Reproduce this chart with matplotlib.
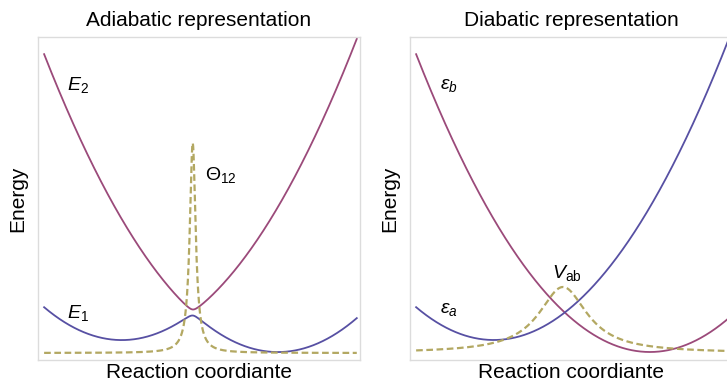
import numpy as np
import matplotlib
matplotlib.use("Agg")
import matplotlib.pyplot as plt

plt.rcParams['font.family'] = ['Liberation Sans', 'DejaVu Sans']
plt.rcParams['mathtext.fontset'] = 'custom'
plt.rcParams['mathtext.rm'] = 'Liberation Sans'
plt.rcParams['mathtext.it'] = 'Liberation Sans:italic'
plt.rcParams['mathtext.bf'] = 'Liberation Sans:bold'

# ==============================
# PARAMETER KURVA
# ==============================
pos_a = 0.26      # minimum sumur a (fraksi koordinat reaksi)
pos_b = 0.745     # minimum sumur b
energi_a = 20.0   # energi minimum a
energi_b = 8.0    # energi minimum b
kelengkungan = 565.0
kopling = 3.0     # V (setengah celah pada titik silang)

theta_dasar = 7.0
theta_puncak = 210.0

vab_pusat = 0.475
vab_dasar = 7.0
vab_puncak = 66.0
vab_lebar = 0.092

x_kiri = np.linspace(0.019, 0.99, 2000)
x_kanan = np.linspace(0.019, 1.0, 2000)

c_magenta = '#9b4a7a'
c_biru = '#5750a3'
c_zaitun = '#b3a862'


def diabatik(x):
    ea = energi_a + kelengkungan * (x - pos_a) ** 2
    eb = energi_b + kelengkungan * (x - pos_b) ** 2
    return ea, eb


# ==============================
# GAMBAR
# ==============================
fig = plt.figure(figsize=(7.27, 3.86), dpi=100)
ax1 = fig.add_axes([38 / 727, 26 / 386, 322 / 727, 323 / 386])
ax2 = fig.add_axes([410 / 727, 26 / 386, 322 / 727, 323 / 386])

# --- adiabatik ---
ea, eb = diabatik(x_kiri)
rata = 0.5 * (ea + eb)
selisih = np.sqrt(0.25 * (ea - eb) ** 2 + kopling ** 2)
E1 = rata - selisih
E2 = rata + selisih
# kopling non-adiabatik (Lorentzian di sekitar titik silang)
d_delta = 2 * kelengkungan * (pos_b - pos_a)
x_silang = x_kiri[np.argmin(np.abs(ea - eb))]
gamma = 2 * kopling / d_delta
theta = theta_dasar + theta_puncak * gamma ** 2 / ((x_kiri - x_silang) ** 2 + gamma ** 2)

ax1.plot(x_kiri, E2, color=c_magenta, lw=1.3)
ax1.plot(x_kiri, E1, color=c_biru, lw=1.3)
ax1.plot(x_kiri, theta, color=c_zaitun, lw=1.6, dashes=(3, 1.6))
ax1.text(0.09, 275, r'$E_2$', fontsize=14, va='center')
ax1.text(0.09, 47, r'$E_1$', fontsize=14, va='center')
ax1.text(0.519, 185, r'$\Theta_{12}$', fontsize=14, va='center')
ax1.set_title('Adiabatic representation', fontsize=15, pad=8)

# --- diabatik ---
ea, eb = diabatik(x_kanan)
vab = vab_dasar + vab_puncak * vab_lebar ** 2 / ((x_kanan - vab_pusat) ** 2 + vab_lebar ** 2)
ax2.plot(x_kanan, eb, color=c_magenta, lw=1.3)
ax2.plot(x_kanan, ea, color=c_biru, lw=1.3)
ax2.plot(x_kanan, vab, color=c_zaitun, lw=1.6, dashes=(3, 1.6))
ax2.text(0.093, 275, r'$\varepsilon_b$', fontsize=14, va='center')
ax2.text(0.093, 50, r'$\varepsilon_a$', fontsize=14, va='center')
ax2.text(0.441, 87, r'$V_\mathrm{ab}$', fontsize=14, va='center')
ax2.set_title('Diabatic representation', fontsize=15, pad=8)

for ax in (ax1, ax2):
    ax.set_xlim(0, 1)
    ax.set_ylim(0, 323)
    ax.set_xticks([])
    ax.set_yticks([])
    ax.set_xlabel('Reaction coordiante', fontsize=15, labelpad=2)
    ax.set_ylabel('Energy', fontsize=15, labelpad=8)
    for s in ax.spines.values():
        s.set_color('#dcdcdc')
        s.set_linewidth(1.0)

fig.savefig('out.png', dpi=100)
